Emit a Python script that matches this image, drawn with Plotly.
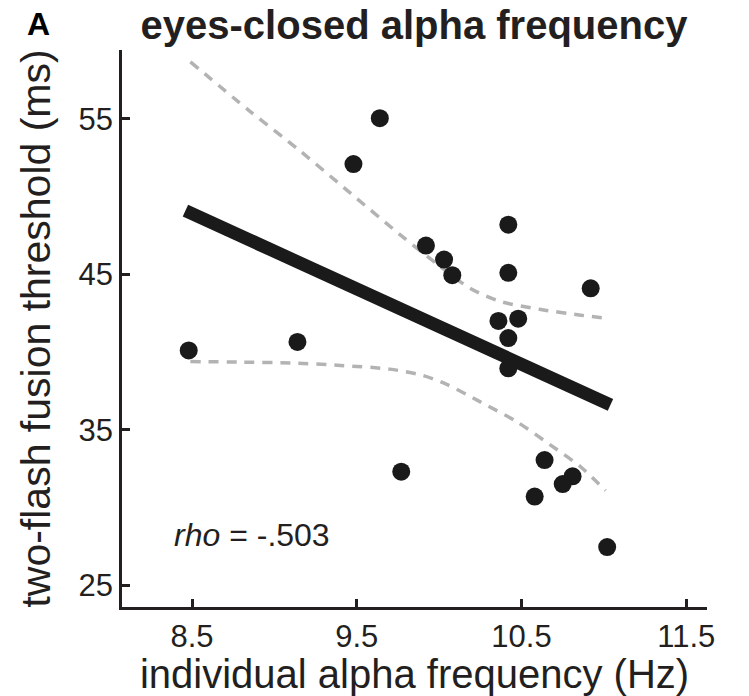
import plotly.graph_objects as go

# Scatter data (individual alpha frequency, two-flash fusion threshold)
iaf_hz = [8.48, 9.14, 9.48, 9.64, 9.77, 9.92, 10.03, 10.08, 10.36, 10.48,
          10.42, 10.42, 10.42, 10.42, 10.92, 10.64, 10.58, 10.75, 10.81, 11.02]
threshold_ms = [40.1, 40.65, 52.1, 55.05, 32.3, 46.85, 45.95, 44.95, 42.0, 42.15,
                48.2, 45.1, 40.9, 38.95, 44.1, 33.05, 30.7, 31.5, 32.0, 27.45]

# Regression line endpoints
fit_x = [8.46, 11.04]
fit_y = [49.1, 36.6]

# Confidence band (upper and lower)
ci_upper_x = [8.49, 8.85, 9.16, 9.46, 9.76, 10.01, 10.19, 10.37, 10.61, 10.86, 11.01]
ci_upper_y = [58.68, 55.51, 52.91, 50.24, 47.58, 45.48, 44.09, 43.26, 42.75, 42.37, 42.18]
ci_lower_x = [8.49, 8.79, 9.10, 9.40, 9.70, 9.90, 10.05, 10.25, 10.47, 10.67, 10.86, 11.01]
ci_lower_y = [39.39, 39.35, 39.3, 39.14, 38.9, 38.5, 37.9, 36.79, 35.52, 34.06, 32.60, 31.08]

x_ticks = [8.5, 9.5, 10.5, 11.5]
y_ticks = [25, 35, 45, 55]

DARK = "#1a1a1a"
TEXT = "#231f20"
GRAY = "#b3b3b3"
FONT = "Liberation Sans, Arial, Helvetica, sans-serif"

fig = go.Figure()
fig.add_trace(go.Scatter(x=ci_upper_x, y=ci_upper_y, mode="lines",
                         line=dict(color=GRAY, width=3.5, dash="10px,8px",
                                   shape="spline", smoothing=0.8),
                         hoverinfo="skip", showlegend=False))
fig.add_trace(go.Scatter(x=ci_lower_x, y=ci_lower_y, mode="lines",
                         line=dict(color=GRAY, width=3.5, dash="10px,8px",
                                   shape="spline", smoothing=0.8),
                         hoverinfo="skip", showlegend=False))
fig.add_trace(go.Scatter(x=fit_x, y=fit_y, mode="lines",
                         line=dict(color=DARK, width=13),
                         showlegend=False))
fig.add_trace(go.Scatter(x=iaf_hz, y=threshold_ms, mode="markers",
                         marker=dict(color=DARK, size=18, line=dict(width=0)),
                         showlegend=False))

fig.update_layout(
    width=749, height=696,
    margin=dict(l=122, r=42, t=50, b=81),
    paper_bgcolor="white", plot_bgcolor="white",
    font=dict(family=FONT, color=TEXT),
    title=dict(text="<b>eyes-closed alpha frequency</b>",
               font=dict(size=40, color=TEXT, family=FONT),
               x=414 / 749, xref="container", xanchor="center",
               y=1 - 25 / 696, yref="container", yanchor="middle"),
    xaxis=dict(range=[8.075, 11.626], tickvals=x_ticks,
               ticktext=[f"{v:.1f}" for v in x_ticks],
               showgrid=False, zeroline=False, showline=True,
               linecolor=TEXT, linewidth=2.5, ticks="inside", ticklen=8,
               tickwidth=2.5, tickcolor=TEXT,
               tickfont=dict(size=31, color=TEXT),
               title=dict(text="individual alpha frequency (Hz)",
                          font=dict(size=40, color=TEXT), standoff=2)),
    yaxis=dict(range=[23.59, 59.44], tickvals=y_ticks,
               showgrid=False, zeroline=False, showline=True,
               linecolor=TEXT, linewidth=2.5, ticks="inside", ticklen=8,
               tickwidth=2.5, tickcolor=TEXT,
               tickfont=dict(size=31, color=TEXT),
               title=dict(text="two-flash fusion threshold (ms)",
                          font=dict(size=41, color=TEXT), standoff=16)),
    annotations=[
        dict(text="<b>A</b>", showarrow=False,
             xref="paper", yref="paper",
             x=(38 - 122) / (749 - 122 - 42),
             y=1 + (50 - 24) / (696 - 50 - 81),
             xanchor="center", yanchor="middle",
             font=dict(size=32, color="black")),
        dict(text="<i>rho</i> = -.503", x=8.864, y=28.2, xref="x", yref="y",
             xanchor="center", yanchor="middle", showarrow=False,
             font=dict(size=32, color=TEXT)),
    ],
)

fig.write_html("out.html")
